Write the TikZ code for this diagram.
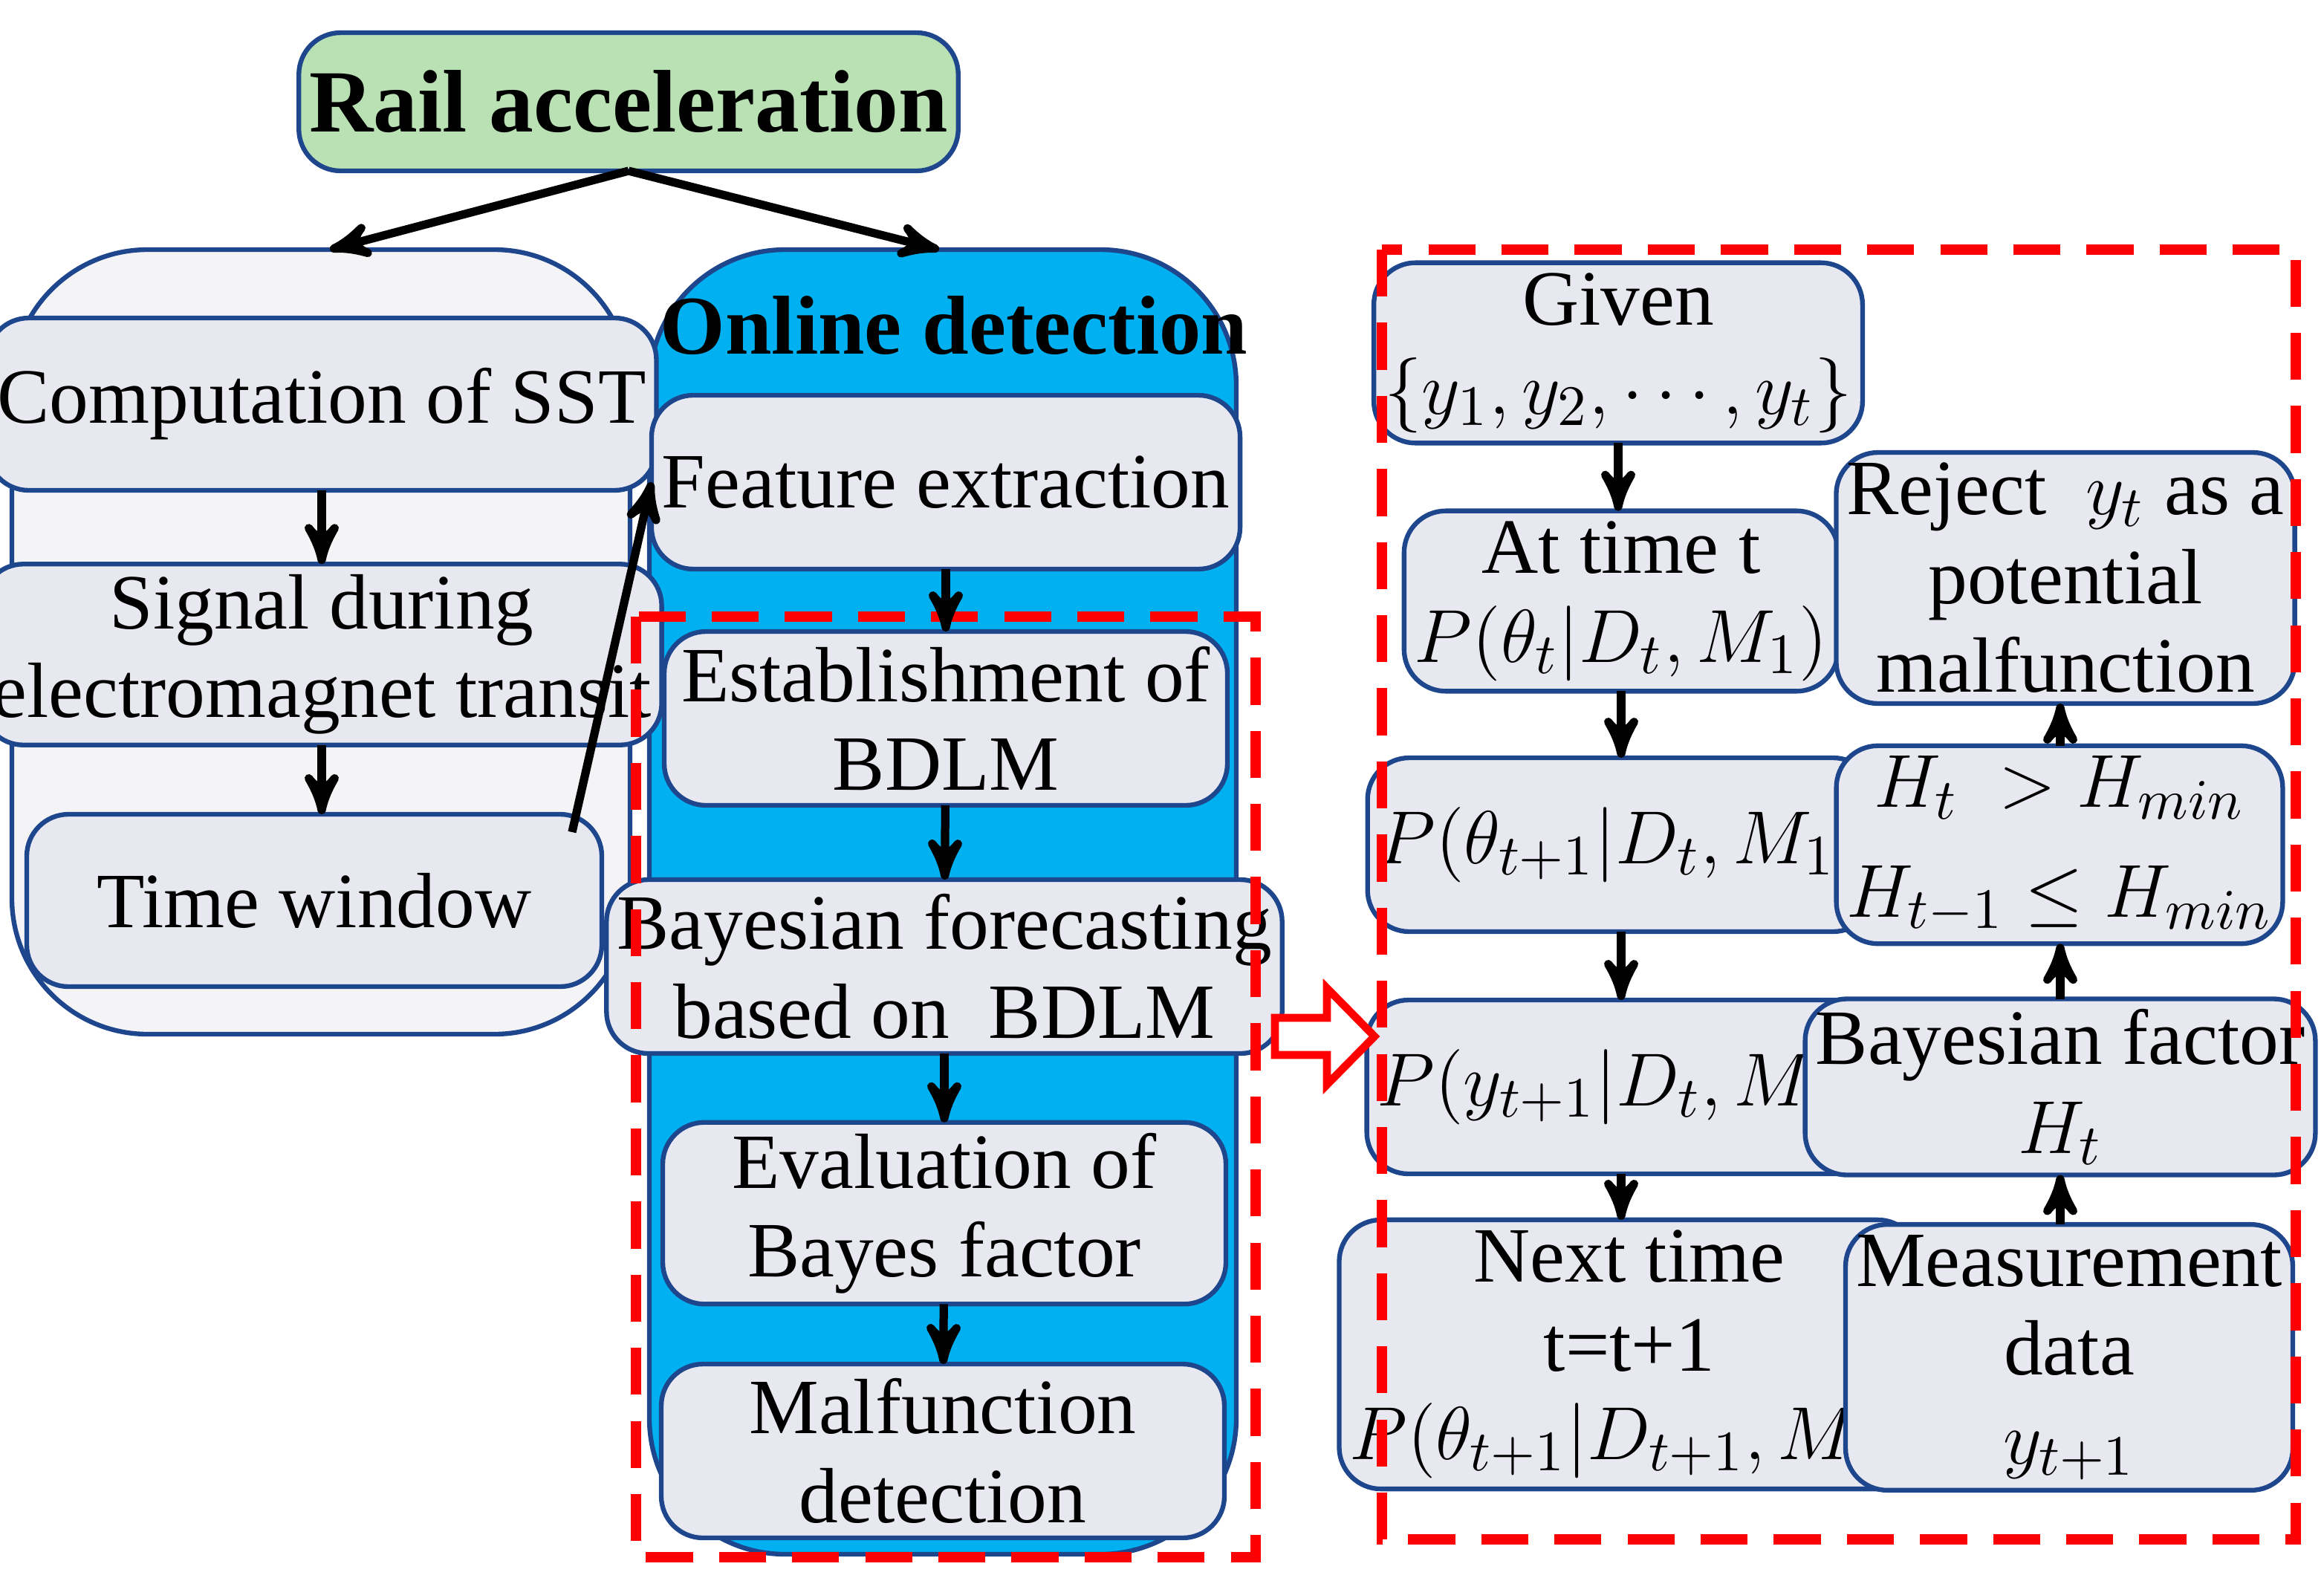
\documentclass[tikz,border=0pt]{standalone}
\usepackage{fontspec}
\setmainfont{Liberation Serif}
\usetikzlibrary{positioning}
\usetikzlibrary{shapes,arrows,backgrounds,fit,calc}
\definecolor{boxfill}{RGB}{232,232,240}
\definecolor{boxline}{RGB}{30,70,140}
\definecolor{railgreen}{RGB}{185,225,180}
\definecolor{onlineblue}{RGB}{0,176,240}
\definecolor{leftgray}{RGB}{244,244,246}
\tikzset{
    >=stealth',
    pil/.style={
           ->,
           line width=1.6pt,}
}
\newcommand{\bx}[4]{\node[stage, minimum width=#3cm, minimum height=#4cm] at (#1,#2)}

\begin{document}
\begin{tikzpicture}[x=1cm, y=-1cm, outer sep=0pt, font=\fontsize{15}{17}\selectfont]
\tikzstyle{stage}=[draw=boxline, line width=0.9pt, rectangle, rounded corners=8pt, fill=boxfill, align=center, inner sep=2pt]
\tikzstyle{frame}=[draw=boxline, line width=0.9pt, rounded corners=26pt]
\tikzstyle{redbox}=[draw=red, line width=2pt, dash pattern=on 9pt off 5pt]

\useasboundingbox (0,0) rectangle (15.64,10.62);

% containers
\draw[frame, fill=leftgray] (0.08,1.68) rectangle (4.24,6.96);
\draw[frame, fill=onlineblue] (4.37,1.68) rectangle (8.32,10.46);
\node[font=\fontsize{16}{18}\selectfont\bfseries] (online) at (6.42,2.19) {Online detection};

\node[stage, fill=railgreen, minimum width=3.5cm, minimum height=0.93cm, font=\fontsize{17}{19}\selectfont\bfseries] (rail) at (4.23,0.685) {Rail acceleration};

% left column
\bx{2.165}{2.72}{3.97}{1.16} (sst) {Computation of SST};
\bx{2.165}{4.405}{3.97}{1.17} (signal) {Signal during\\electromagnet transit};
\bx{2.115}{6.06}{3.87}{1.16} (window) {Time window};

% online column
\bx{6.365}{3.245}{3.79}{1.17} (feat) {Feature extraction};
\bx{6.365}{4.835}{3.79}{1.17} (bdlm) {Establishment of\\BDLM};
\bx{6.355}{6.505}{3.79}{1.17} (fore) {Bayesian forecasting\\based on\ \ BDLM};
\bx{6.355}{8.165}{3.79}{1.17} (bayes) {Evaluation of\\Bayes factor};
\bx{6.345}{9.765}{3.79}{1.17} (malf) {Malfunction\\detection};

% right column one
\bx{10.89}{2.375}{2.72}{1.15} (given) {Given\\$\{y_1,y_2,\cdots,y_t\}$};
\bx{10.91}{4.045}{2.76}{1.17} (attime) {At time t\\$P(\theta_t|D_t,M_1)$};
\bx{10.91}{5.685}{2.76}{1.17} (ptheta) {$P(\theta_{t+1}|D_t,M_1)$};
\bx{10.91}{7.315}{2.76}{1.17} (py) {$P(y_{t+1}|D_t,M_1)$};
\bx{10.965}{9.115}{2.87}{1.57} (next) {Next time\\t=t+1\\$P(\theta_{t+1}|D_{t+1},M_1)$};

% right column two
\bx{13.9}{3.89}{2.8}{1.46} (reject) {Reject\ \ $y_t$ as a\\potential\\malfunction};
\bx{13.86}{5.685}{2.8}{1.17} (hmin) {$H_t\ >H_{min}$\\[4pt]$H_{t-1}\leq H_{min}$};
\bx{13.865}{7.315}{2.93}{1.17} (hfac) {Bayesian factor\\$H_t$};
\bx{13.925}{9.135}{2.81}{1.57} (meas) {Measurement\\data\\$y_{t+1}$};

% red frames
\draw[redbox] (4.28,4.15) rectangle (8.45,10.48);
\draw[redbox] (9.30,1.68) rectangle (15.45,10.36);
\draw[draw=red, line width=1.5pt, fill=white]
  (8.58,6.85) -- (8.93,6.85) -- (8.93,6.65) -- (9.25,6.975) -- (8.93,7.30) -- (8.93,7.10) -- (8.58,7.10) -- cycle;

% arrows
\draw[pil] (rail.south) -- (2.22,1.68);
\draw[pil] (rail.south) -- (6.32,1.68);
\draw[pil] (sst) -- (signal);
\draw[pil] (signal) -- (2.165,5.48);
\draw[pil] (3.85,5.60) -- (feat.west);
\draw[pil] (feat) -- (bdlm);
\draw[pil] (bdlm) -- (fore);
\draw[pil] (fore) -- (bayes);
\draw[pil] (bayes) -- (malf);
\draw[pil] (given) -- (given |- attime.north);
\draw[pil] (attime) -- (attime |- ptheta.north);
\draw[pil] (ptheta) -- (py);
\draw[pil] (py) -- (py |- next.north);
\draw[pil] (meas.north -| hfac) -- (hfac);
\draw[pil] (hfac) -- (hfac |- hmin.south);
\draw[pil] (hmin.north -| hfac) -- (hfac |- reject.south);
\end{tikzpicture}
\end{document}
